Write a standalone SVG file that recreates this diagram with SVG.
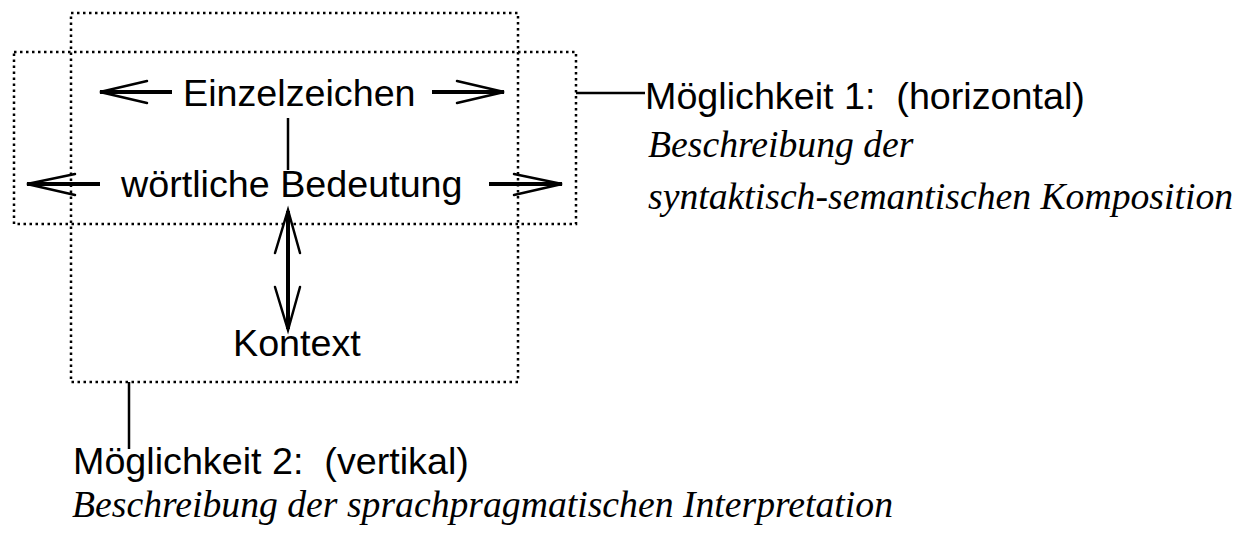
<svg xmlns="http://www.w3.org/2000/svg" width="1243" height="535" viewBox="0 0 1243 535">
  <style>
    .frame { fill: none; stroke: #000; stroke-width: 2.5; stroke-dasharray: 2.5 3.5; }
    .shaft { fill: none; stroke: #000; stroke-width: 4; stroke-linecap: butt; }
    .barb { fill: none; stroke: #000; stroke-width: 2.5; stroke-linecap: round; stroke-linejoin: miter; }
    .link { fill: none; stroke: #000; stroke-width: 2.5; }
    .sans { font-family: "Liberation Sans", Arial, sans-serif; font-size: 37.7px; fill: #000; white-space: pre; }
    .serif { font-family: "Liberation Serif", "Times New Roman", serif; font-style: italic; font-size: 37.7px; fill: #000; white-space: pre; }
  </style>
  <rect width="1243" height="535" fill="#fff"/>

  <!-- dotted frames: vertical reading and horizontal reading -->
  <g id="frame-vertical">
    <rect class="frame" x="71" y="13" width="447" height="369"/>
  </g>
  <g id="frame-horizontal">
    <rect class="frame" x="14" y="52" width="562" height="172"/>
  </g>

  <!-- labels inside the frames -->
  <g id="einzelzeichen">
    <text class="sans" x="183" y="106">Einzelzeichen</text>
  </g>
  <g id="woertliche-bedeutung">
    <text class="sans" x="121" y="197">wörtliche Bedeutung</text>
  </g>
  <g id="kontext">
    <text class="sans" x="233" y="356">Kontext</text>
  </g>

  <!-- explanations -->
  <g id="moeglichkeit-1">
    <text class="sans" x="645" y="109" xml:space="preserve">Möglichkeit 1:  (horizontal)</text>
    <text class="serif" x="648" y="157">Beschreibung der</text>
    <text class="serif" x="648" y="209">syntaktisch-semantischen Komposition</text>
  </g>
  <g id="moeglichkeit-2">
    <text class="sans" x="73" y="474" xml:space="preserve">Möglichkeit 2:  (vertikal)</text>
    <text class="serif" x="72" y="517">Beschreibung der sprachpragmatischen Interpretation</text>
  </g>

  <!-- connectors and arrows -->
  <g id="connectors">
    <!-- Einzelzeichen, left -->
    <line class="shaft" x1="172" y1="92" x2="100" y2="92"/>
    <path class="barb" d="M147 81 L100 92 L147 103"/>
    <!-- Einzelzeichen, right -->
    <line class="shaft" x1="432" y1="92" x2="504" y2="92"/>
    <path class="barb" d="M457 81 L504 92 L457 103"/>
    <!-- wörtliche Bedeutung, left -->
    <line class="shaft" x1="100" y1="184" x2="27" y2="184"/>
    <path class="barb" d="M75 174 L27 184 L75 195"/>
    <!-- wörtliche Bedeutung, right -->
    <line class="shaft" x1="489" y1="184" x2="562" y2="184"/>
    <path class="barb" d="M514 174 L562 184 L514 195"/>
    <!-- Einzelzeichen to wörtliche Bedeutung -->
    <line class="link" x1="288" y1="118" x2="288" y2="170"/>
    <!-- wörtliche Bedeutung to Kontext, both ways -->
    <line class="shaft" x1="288" y1="211" x2="288" y2="329"/>
    <path class="barb" d="M275 253 L288 210 L300 253"/>
    <path class="barb" d="M275 287 L288 330 L300 287"/>
    <!-- frame leaders -->
    <line class="link" x1="576" y1="93" x2="645" y2="93"/>
    <line class="link" x1="129" y1="382" x2="129" y2="449"/>
  </g>
</svg>
